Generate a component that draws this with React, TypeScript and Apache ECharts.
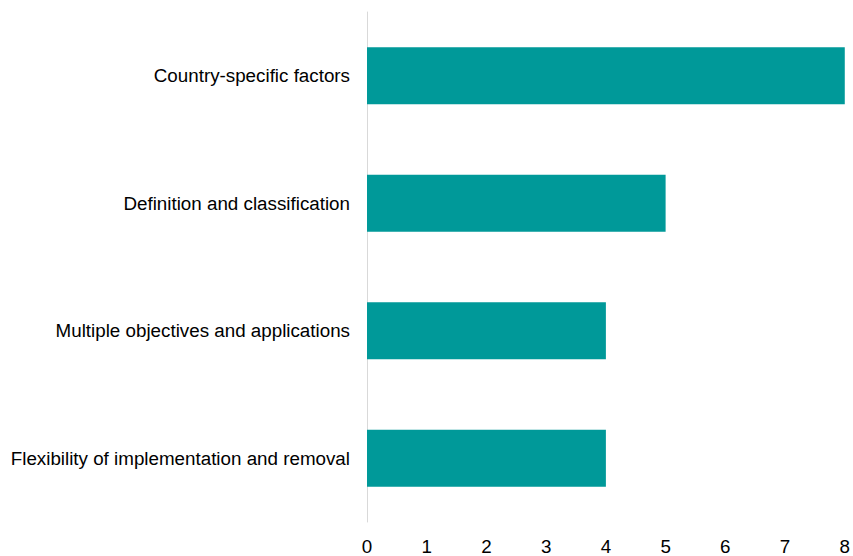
import React, { useEffect, useRef } from "react";
import * as echarts from "echarts";

const categories = [
  "Country-specific factors",
  "Definition and classification",
  "Multiple objectives and applications",
  "Flexibility of implementation and removal",
];
const values = [8, 5, 4, 4];
const xTicks = [0, 1, 2, 3, 4, 5, 6, 7, 8];

export default function App() {
  const ref = useRef<HTMLDivElement>(null);
  useEffect(() => {
    document.body.style.margin = "0";
    const chart = echarts.init(ref.current!, null, { renderer: "svg" });
    chart.setOption({
      animation: false,
      grid: { left: 367, right: 5, top: 12, bottom: 33 },
      xAxis: {
        type: "value",
        min: xTicks[0],
        max: xTicks[xTicks.length - 1],
        interval: 1,
        axisLine: { show: false },
        axisTick: { show: false },
        splitLine: { show: false },
        axisLabel: {
          color: "#000",
          fontSize: 18.8,
          fontFamily: "Liberation Sans, Arial, sans-serif",
          margin: 15,
        },
      },
      yAxis: {
        type: "category",
        inverse: true,
        data: categories,
        axisLine: { show: true, lineStyle: { color: "#d9d9d9", width: 1 } },
        axisTick: { show: false },
        axisLabel: {
          color: "#000",
          fontSize: 18.8,
          fontFamily: "Liberation Sans, Arial, sans-serif",
          margin: 17,
        },
      },
      series: [
        {
          type: "bar",
          data: values,
          barWidth: 57,
          itemStyle: { color: "#009999" },
        },
      ],
    });
    return () => chart.dispose();
  }, []);
  return <div ref={ref} style={{ width: 853, height: 556 }} />;
}
